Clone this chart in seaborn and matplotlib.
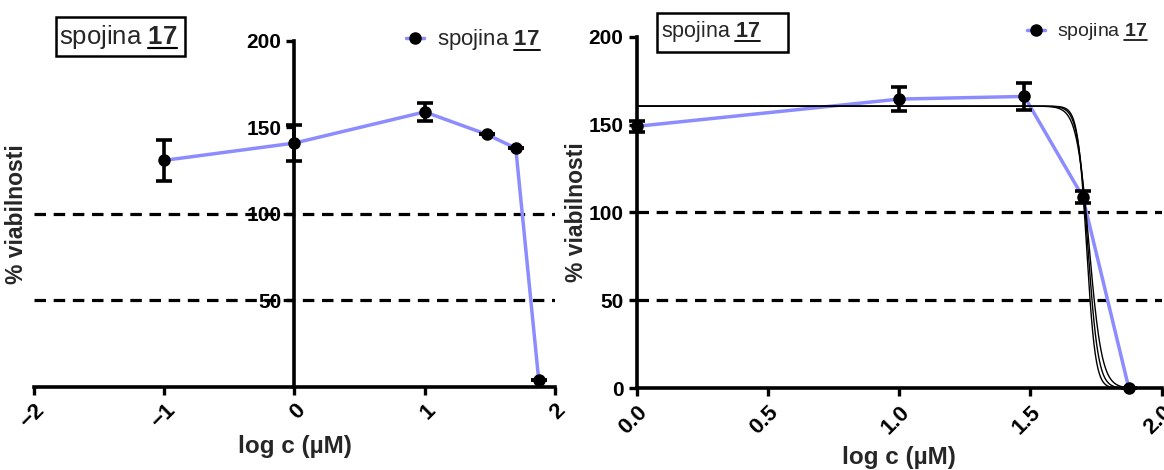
import numpy as np
import pandas as pd
import matplotlib
matplotlib.use("Agg")
import matplotlib.pyplot as plt
from matplotlib.lines import Line2D
from matplotlib.patches import Rectangle
import seaborn as sns

sns.set_style("ticks")
plt.rcParams["font.family"] = ["Liberation Sans", "DejaVu Sans"]
plt.rcParams["mathtext.fontset"] = "custom"
plt.rcParams["mathtext.rm"] = "Liberation Sans"
plt.rcParams["mathtext.bf"] = "Liberation Sans:bold"

# --- data: wide concentration range (left) ---
logc_a = [-1.0, 0.0, 1.0, 1.477, 1.699, 1.875]
viab_a = [131, 141, 159, 146, 138, 4]
err_a = [12, 10.5, 5, 0, 0, 0]

# --- data: narrow concentration range (right) ---
logc_b = [0.0, 1.0, 1.477, 1.699, 1.875]
viab_b = [149, 164.5, 166, 109, 0]
err_b = [3, 7, 7.5, 3.5, 0]

# sigmoidal fits (best fit and band) : top, bottom, logIC50, Hill slope
fit_top = 160.5
fit_bottom = 0.0
fit_logic50 = [1.714, 1.719, 1.724]
fit_hill = [26, 22, 18]

compound_no = "17"
label_txt = r"spojina $\mathbf{" + compound_no + "}$"
ref_levels = [50, 100]
line_col = "#8c8cff"

W, H = 1164, 470
fig = plt.figure(figsize=(W / 100, H / 100), dpi=100)
ax1 = fig.add_axes([0.0292, 0.1766, 0.4476, 0.7362])
ax2 = fig.add_axes([0.547, 0.1738, 0.451, 0.7482])

df_a = pd.DataFrame({"logc": logc_a, "viab": viab_a})
df_b = pd.DataFrame({"logc": logc_b, "viab": viab_b})

underlined = []  # (text artist, fontsize) pairs whose number gets underlined


def draw_series(ax, df, err):
    sns.lineplot(data=df, x="logc", y="viab", ax=ax, color=line_col, lw=2.5,
                 zorder=2, clip_on=False)
    ax.errorbar(df["logc"], df["viab"], yerr=err, fmt="o", color="black",
                ms=8, elinewidth=2.6, capsize=6, capthick=2.6, zorder=4,
                clip_on=False)
    for lv in ref_levels:
        ax.axhline(lv, color="black", lw=2.3, ls=(0, (3.6, 2.4)), zorder=1)


def style_axes(ax):
    for side in ("top", "right"):
        ax.spines[side].set_visible(False)
    for side in ("left", "bottom"):
        ax.spines[side].set_linewidth(2.6)
        ax.spines[side].set_color("black")
    ax.tick_params(axis="both", width=2.4, length=6, colors="black")
    ax.tick_params(axis="y", labelsize=15)
    ax.tick_params(axis="x", labelsize=16)
    for t in ax.get_yticklabels() + ax.get_xticklabels():
        t.set_fontweight("bold")
    for t in ax.get_xticklabels():
        t.set_rotation(45)
        t.set_ha("right")
        t.set_va("top")
        t.set_rotation_mode("anchor")
    ax.set_ylabel("% viabilnosti", fontsize=16.5, fontweight="bold")
    ax.set_xlabel("log c (µM)", fontsize=17.5, fontweight="bold")


def add_legend(x_px, y_px, fs, hlen, tpad):
    h = Line2D([], [], color=line_col, lw=2.5, marker="o", ms=8,
               mfc="black", mec="black")
    leg = fig.legend([h], [label_txt], loc="center left",
                     bbox_to_anchor=(x_px / W, 1 - y_px / H),
                     bbox_transform=fig.transFigure, frameon=False,
                     fontsize=fs, handlelength=hlen, handletextpad=tpad,
                     borderaxespad=0, borderpad=0)
    underlined.append((leg.get_texts()[0], fs))


def box_label(box_px, text_x_px, text_y_px, fs):
    x0, y0, x1, y1 = box_px
    fig.add_artist(Rectangle((x0 / W, 1 - y1 / H), (x1 - x0) / W,
                             (y1 - y0) / H, transform=fig.transFigure,
                             fc="white", ec="black", lw=1.8, zorder=5))
    t = fig.text(text_x_px / W, 1 - text_y_px / H, label_txt, fontsize=fs,
                 va="center", ha="left", zorder=6)
    underlined.append((t, fs))


# left panel
draw_series(ax1, df_a, err_a)
ax1.set_xlim(-2, 2)
ax1.set_ylim(0, 200)
ax1.spines["left"].set_position(("data", 0))
ax1.set_xticks([-2, -1, 0, 1, 2])
ax1.set_yticks([50, 100, 150, 200])
style_axes(ax1)
ax1.yaxis.set_label_coords(-0.012, 0.5)
ax1.xaxis.set_label_coords(0.5, -0.14)
box_label((56, 17, 185, 56), 59, 37, 18.5)
add_legend(406, 40, 16, 0.8, 0.6)

# right panel
xs = np.linspace(0, 2, 800)
for c, h in zip(fit_logic50, fit_hill):
    ys = fit_bottom + (fit_top - fit_bottom) / (1 + 10 ** ((xs - c) * h))
    ax2.plot(xs, ys, color="black", lw=1.0, zorder=3)
draw_series(ax2, df_b, err_b)
ax2.set_xlim(0, 2)
ax2.set_ylim(0, 200)
ax2.set_xticks([0, 0.5, 1.0, 1.5, 2.0])
ax2.set_xticklabels(["0.0", "0.5", "1.0", "1.5", "2.0"])
ax2.set_yticks([0, 50, 100, 150, 200])
style_axes(ax2)
ax2.yaxis.set_label_coords(-0.093, 0.5)
ax2.xaxis.set_label_coords(0.5, -0.163)
box_label((657, 13, 788, 52), 661, 31, 15.5)
add_legend(1027, 32, 14, 0.95, 0.6)

# underline the compound number at the end of each label
fig.canvas.draw()
renderer = fig.canvas.get_renderer()
for txt, fs in underlined:
    bb = txt.get_window_extent(renderer)
    probe = fig.text(0, 0, r"$\mathbf{" + compound_no + "}$", fontsize=fs)
    w = probe.get_window_extent(renderer).width
    probe.remove()
    em = fs * fig.dpi / 72.0
    y = bb.y0 + 0.12 * em
    fig.add_artist(Line2D([(bb.x1 - w) / W, bb.x1 / W], [y / H, y / H],
                          transform=fig.transFigure, color="black",
                          lw=max(1.0, fs / 12.0), zorder=7))

fig.savefig("out.png", dpi=100)
